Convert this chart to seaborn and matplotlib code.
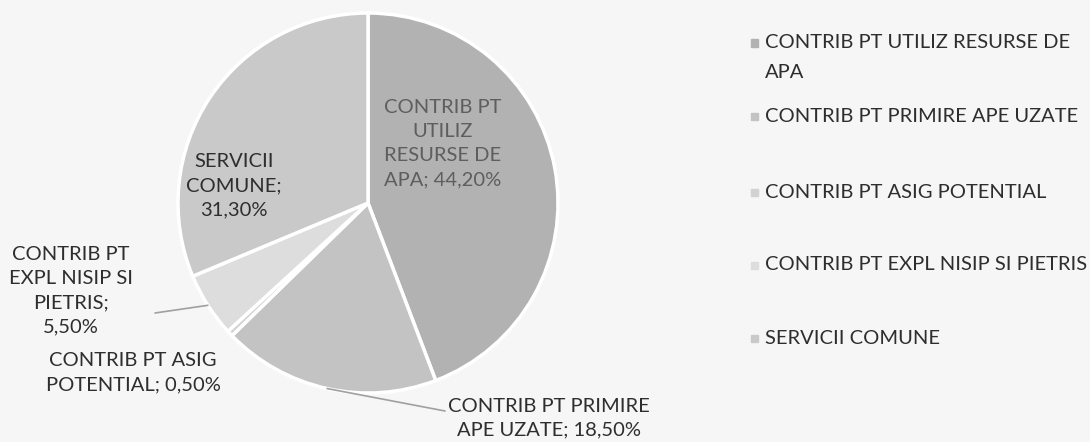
import numpy as np
import matplotlib
matplotlib.use("Agg")
import matplotlib.pyplot as plt
import seaborn as sns

categories = [
    "CONTRIB PT UTILIZ RESURSE DE\nAPA",
    "CONTRIB PT PRIMIRE APE UZATE",
    "CONTRIB PT ASIG POTENTIAL",
    "CONTRIB PT EXPL NISIP SI PIETRIS",
    "SERVICII COMUNE",
]
values = [44.2, 18.5, 0.5, 5.5, 31.3]
data_labels = [
    "CONTRIB PT\nUTILIZ\nRESURSE DE\nAPA; 44,20%",
    "CONTRIB PT PRIMIRE\nAPE UZATE; 18,50%",
    "CONTRIB PT ASIG\nPOTENTIAL; 0,50%",
    "CONTRIB PT\nEXPL NISIP SI\nPIETRIS;\n5,50%",
    "SERVICII\nCOMUNE;\n31,30%",
]
colors = ["#b2b2b2", "#c3c3c3", "#d2d2d2", "#dddddd", "#c9c9c9"]

sns.set_theme(style="white")
plt.rcParams["font.family"] = ["Lato", "DejaVu Sans"]

BG = "#f6f6f6"
W, H = 1090, 442
fig = plt.figure(figsize=(W / 100, H / 100), dpi=100, facecolor=BG)

# pie centre and radius in pixels
cx, cy, r = 368, 203, 190
ax = fig.add_axes([(cx - r) / W, 1 - (cy + r) / H, 2 * r / W, 2 * r / H])
ax.set_facecolor(BG)

wedges, _ = ax.pie(values, colors=colors, startangle=90, counterclock=False,
                   wedgeprops=dict(edgecolor="white", linewidth=2.5))
ax.set_xlim(-1, 1)
ax.set_ylim(-1, 1)
ax.set_aspect("equal")
ax.axis("off")


def px(x, y):
    return (x - cx) / r, (cy - y) / r


fs = 14.5
txt = "#2e2e2e"
# label positions (pixels) and horizontal anchor
pos = [(443, 144, "center"), (448, 418, "left"), (133, 373, "center"),
       (71, 291, "center"), (234, 186, "center")]
for i, (lab, (x, y, ha)) in enumerate(zip(data_labels, pos)):
    dx, dy = px(x, y)
    ax.text(dx, dy, lab, ha=ha, va="center", multialignment="center",
            fontsize=fs, color="#5e5e5e" if i == 0 else txt,
            linespacing=1.5, clip_on=False)

# leader lines from wedge edges
for i, end in [(1, (445, 411)), (3, (155, 313))]:
    w = wedges[i]
    mid = np.deg2rad((w.theta1 + w.theta2) / 2)
    ex, ey = px(*end)
    ax.plot([np.cos(mid), ex], [np.sin(mid), ey], color="#a0a0a0", lw=1.2,
            clip_on=False)

# legend
leg_y = [43, 117, 192, 265, 338]
for lab, col, y in zip(categories, colors, leg_y):
    fig.patches.append(plt.Rectangle((751 / W, 1 - (y + 3.5) / H), 7 / W, 7 / H,
                                     transform=fig.transFigure, color=col,
                                     figure=fig))
    first = lab.split("\n")
    for k, line in enumerate(first):
        fig.text(765 / W, 1 - (y + 29 * k) / H, line, ha="left", va="center",
                 fontsize=fs, color=txt)

fig.savefig("out.png", dpi=100, facecolor=BG)
